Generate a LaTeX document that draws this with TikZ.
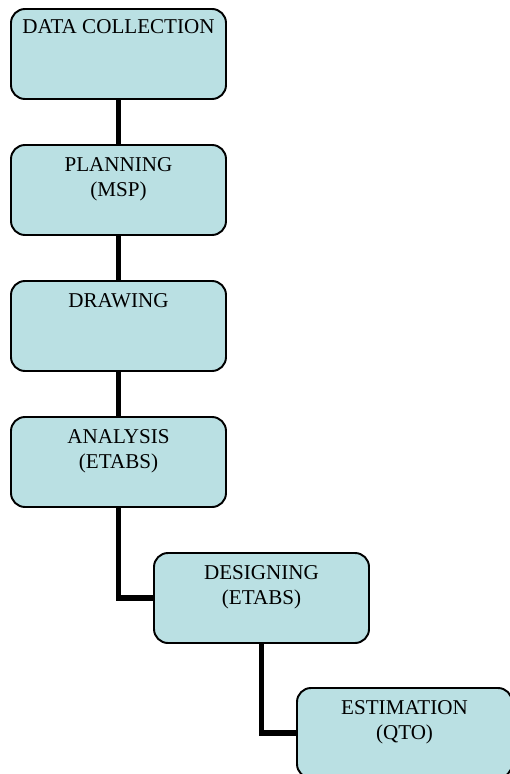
\documentclass[tikz,border=0pt]{standalone}
\usepackage{fontspec}
\setmainfont{Liberation Serif}
\usetikzlibrary{calc}
\definecolor{boxfill}{HTML}{BAE0E3}
\tikzset{
	stage/.style={draw=black, fill=boxfill, line width=1.1pt, rounded corners=0.28cm,
		minimum width=4.3cm, minimum height=1.8cm, inner sep=0},
	stagetext/.style={anchor=north, inner sep=0, align=center,
		font=\fontsize{12}{14.2}\selectfont},
	link/.style={line width=3.4pt}
}

\begin{document}
\begin{tikzpicture}
		%%%%% START %%%%%
		\useasboundingbox (0, 0) rectangle (10.18, -15.48);
		
		\node[stage] (collect) at (2.37, -1.08) {};
		\node[stage] (plan) at (2.37, -3.8) {};
		\node[stage] (draw) at (2.37, -6.52) {};
		\node[stage] (analyse) at (2.37, -9.24) {};
		\node[stage] (design) at (5.23, -11.96) {};
		\node[stage] (estimate) at (8.09, -14.66) {};
		
		\draw[link] (collect) -- (plan);
		\draw[link] (plan) -- (draw);
		\draw[link] (draw) -- (analyse);
		\draw[link] (analyse.south) |- (design.west);
		\draw[link] (design.south) |- (estimate.west);
		
		\node[stagetext] (collectlbl) at ($(collect.north)+(0, -0.22)$) {DATA COLLECTION};
		\node[stagetext] (planlbl) at ($(plan.north)+(0, -0.27)$) {PLANNING\\(MSP)};
		\node[stagetext] (drawlbl) at ($(draw.north)+(0, -0.27)$) {DRAWING};
		\node[stagetext] (analyselbl) at ($(analyse.north)+(0, -0.27)$) {ANALYSIS\\(ETABS)};
		\node[stagetext] (designlbl) at ($(design.north)+(0, -0.27)$) {DESIGNING\\(ETABS)};
		\node[stagetext] (estimatelbl) at ($(estimate.north)+(0, -0.27)$) {ESTIMATION\\(QTO)};
		
		%%%%% END %%%%%
	\end{tikzpicture}
\end{document}
